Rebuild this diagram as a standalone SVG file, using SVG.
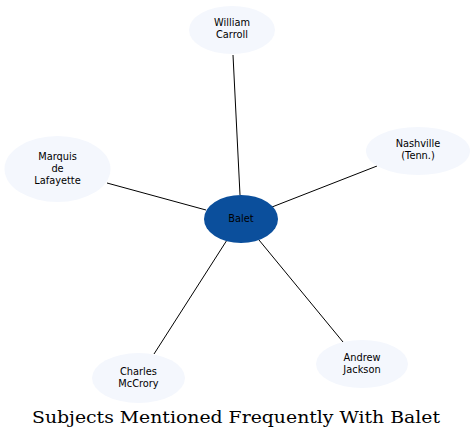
<svg xmlns="http://www.w3.org/2000/svg" width="474" height="439" viewBox="0 0 474 439">
<style>
.n{fill:#f4f7fd;stroke:none}
.c{fill:#0b4f9c;stroke:none}
.t{font-family:"DejaVu Sans",sans-serif;font-size:9.8px;fill:#000;text-anchor:middle}
.e{stroke:#000;stroke-width:1;fill:none}
.title{font-family:"DejaVu Serif",serif;font-size:16.5px;fill:#000;text-anchor:middle}
</style>
<rect width="474" height="439" fill="#fff"/>
<g id="edges">
<line class="e" x1="233" y1="55" x2="240" y2="195"/>
<line class="e" x1="107" y1="183" x2="206" y2="210"/>
<line class="e" x1="377" y1="166" x2="272" y2="207"/>
<line class="e" x1="154" y1="354" x2="227" y2="240"/>
<line class="e" x1="343" y1="342" x2="259" y2="240"/>
</g>
<g id="balet">
<ellipse class="c" cx="241" cy="219" rx="37" ry="24"/>
<text class="t" x="241" y="222">Balet</text>
</g>
<g id="carroll">
<ellipse class="n" cx="232" cy="30" rx="43" ry="24"/>
<text class="t" x="232" y="26">William</text>
<text class="t" x="232" y="38">Carroll</text>
</g>
<g id="lafayette">
<ellipse class="n" cx="57.5" cy="169" rx="53" ry="33"/>
<text class="t" x="57.5" y="160">Marquis</text>
<text class="t" x="57.5" y="172">de</text>
<text class="t" x="57.5" y="184">Lafayette</text>
</g>
<g id="nashville">
<ellipse class="n" cx="418" cy="151" rx="52" ry="24"/>
<text class="t" x="418" y="147">Nashville</text>
<text class="t" x="418" y="159">(Tenn.)</text>
</g>
<g id="mccrory">
<ellipse class="n" cx="138.5" cy="378" rx="46.5" ry="25"/>
<text class="t" x="138.5" y="375">Charles</text>
<text class="t" x="138.5" y="387">McCrory</text>
</g>
<g id="jackson">
<ellipse class="n" cx="362" cy="364" rx="46" ry="24"/>
<text class="t" x="362" y="361">Andrew</text>
<text class="t" x="362" y="373">Jackson</text>
</g>
<text class="title" x="236" y="423" textLength="408" lengthAdjust="spacingAndGlyphs">Subjects Mentioned Frequently With Balet</text>
</svg>
